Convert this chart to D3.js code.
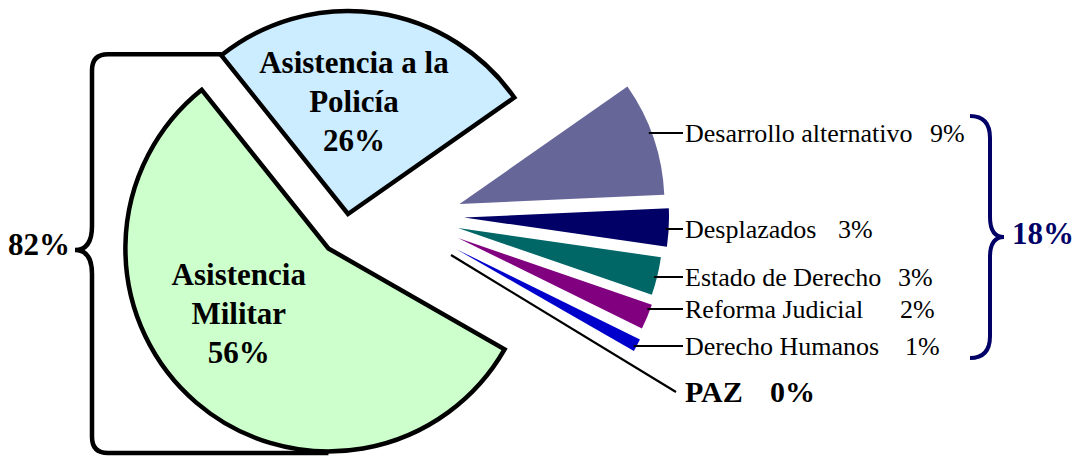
<!DOCTYPE html>
<html><head><meta charset="utf-8">
<script src="https://cdn.jsdelivr.net/npm/d3@7"></script>
<style>
html,body{margin:0;padding:0;background:#fff;}
svg{display:block;}
svg text{font-family:"Liberation Serif","Times New Roman","DejaVu Serif",serif;}
</style>
</head><body>
<svg id="chart" width="1079" height="456" font-family="Liberation Serif, Times New Roman, DejaVu Serif, serif"></svg>
<script>
// ---------------- DATA ----------------
const categories = ["Desarrollo alternativo","Desplazados","Estado de Derecho","Reforma Judicial","Derecho Humanos","PAZ","Asistencia Militar","Asistencia a la Policía"];
const values     = [9, 3, 3, 2, 1, 0, 56, 26];
const groups     = ["break","break","break","break","break","break","main","main"];
const mainLabelLines = {"Asistencia Militar":["Asistencia","Militar"], "Asistencia a la Policía":["Asistencia a la","Policía"]};

// ---------------- LAYOUT / STYLE ----------------
const W = 1079, H = 456;
const FONT = "'Liberation Serif', 'Times New Roman', 'DejaVu Serif', serif";
const center = [346, 228];
const startDeg = 55;
const colors = ["#666699","#000066","#006666","#800080","#0000CC","#000000","#CCFFCC","#CCECFF"];
// explode vectors (how far each slice is pulled out of the pie)
const explode = [[113.5,-24],[118,-10.5],[112,0],[112,10],[110,21],[105,27],[-17.6,20.5],[2,-14]];
const radiusMain = 203, radiusBreak = 205;
const labelY = [133, 229, 277, 309, 346, 392];      // leader-line heights of the side labels
const pctX   = [930, 838, 898, 900, 905, 770];      // x of the percentage text
const labelX = 685;
const mainLabelNudge = {"Asistencia Militar":[-17,-19], "Asistencia a la Policía":[-10,-1]};

const svg = d3.select("#chart");
const rad = Math.PI/180;
const polar = (c, r, a) => [c[0] + r*Math.sin(a), c[1] - r*Math.cos(a)];

const data = categories.map((name,i)=>({name, value:values[i], group:groups[i], color:colors[i], off:explode[i], ly:labelY[i], px:pctX[i]}));
const pie = d3.pie().sort(null).value(d=>d.value)
  .startAngle(startDeg*rad).endAngle(startDeg*rad + 2*Math.PI);
const arcsData = pie(data);
const total = d3.sum(values);
const fmt = v => Math.round(v/total*100) + "%";

arcsData.forEach(d=>{
  d.apex = [center[0] + d.data.off[0], center[1] + d.data.off[1]];
  d.R = d.data.group === "main" ? radiusMain : radiusBreak;
});

const arcGen = d3.arc().innerRadius(0);

// main slices
const mainArcs = arcsData.filter(d=>d.data.group==="main");
svg.append("g").selectAll("path").data(mainArcs).join("path")
  .attr("transform", d=>`translate(${d.apex[0]},${d.apex[1]})`)
  .attr("d", d=>arcGen.outerRadius(d.R)(d))
  .attr("fill", d=>d.data.color)
  .attr("stroke", "#000").attr("stroke-width", 4.5).attr("stroke-linejoin","miter");

// break-out slices
const breakArcs = arcsData.filter(d=>d.data.group==="break" && d.data.value>0);
svg.append("g").selectAll("path").data(breakArcs).join("path")
  .attr("transform", d=>`translate(${d.apex[0]},${d.apex[1]})`)
  .attr("d", d=>arcGen.outerRadius(d.R)(d))
  .attr("fill", d=>d.data.color);

function txt(sel){ return sel.attr("font-family", FONT).attr("fill","#000"); }

// leader lines + labels for break-out slices
const side = arcsData.filter(d=>d.data.group==="break");
const lg = svg.append("g");
side.forEach(d=>{
  const y = d.data.ly;
  if (d.data.value > 0) {
    const dy = y - d.apex[1];
    const x0 = d.apex[0] + Math.sqrt(d.R*d.R - dy*dy) - 3;
    lg.append("line").attr("x1", x0).attr("x2", labelX-2).attr("y1", y).attr("y2", y)
      .attr("stroke","#000").attr("stroke-width",2);
    txt(lg.append("text")).attr("x", labelX).attr("y", y + 9)
      .attr("font-size", 26).text(d.data.name);
    txt(lg.append("text")).attr("x", d.data.px).attr("y", y + 9)
      .attr("font-size", 26).text(fmt(d.data.value));
  } else {
    // zero slice: a line from its apex to the label
    lg.append("line").attr("x1", d.apex[0]).attr("y1", d.apex[1])
      .attr("x2", labelX-9).attr("y2", y)
      .attr("stroke","#000").attr("stroke-width",2.2);
    txt(lg.append("text")).attr("x", labelX).attr("y", y + 10)
      .attr("font-size", 30).attr("font-weight","bold").text(d.data.name);
    txt(lg.append("text")).attr("x", d.data.px).attr("y", y + 10)
      .attr("font-size", 30).attr("font-weight","bold").text(fmt(d.data.value));
  }
});

// labels inside main slices
const mg = svg.append("g");
mainArcs.forEach(d=>{
  const c = arcGen.innerRadius(0).outerRadius(d.R*1.1).centroid(d);
  const nud = mainLabelNudge[d.data.name];
  const cx = d.apex[0] + c[0] + nud[0], cy = d.apex[1] + c[1] + nud[1];
  const lines = mainLabelLines[d.data.name].concat([fmt(d.data.value)]);
  const t = txt(mg.append("text")).attr("text-anchor","middle").attr("font-size",31)
    .attr("font-weight","bold");
  lines.forEach((s,i)=>{
    t.append("tspan").attr("x", cx).attr("y", cy + 10 + (i-1)*39).text(s);
  });
});

// left brace (82%)
const pol = mainArcs.find(d=>d.data.name==="Asistencia a la Policía");
const mil = mainArcs.find(d=>d.data.name==="Asistencia Militar");
const polCorner = polar(pol.apex, pol.R, pol.startAngle);
const yTop = polCorner[1] - 1, yBot = mil.apex[1] + mil.R + 1.5;
const bx = 92, tipX = 75, yMid = 250;
const bp = d3.path();
bp.moveTo(polCorner[0], yTop);
bp.lineTo(bx+16, yTop);
bp.quadraticCurveTo(bx, yTop, bx, yTop+16);
bp.lineTo(bx, yMid-24);
bp.quadraticCurveTo(bx, yMid, tipX, yMid);
bp.quadraticCurveTo(bx, yMid, bx, yMid+24);
bp.lineTo(bx, yBot-16);
bp.quadraticCurveTo(bx, yBot, bx+16, yBot);
bp.lineTo(mil.apex[0], yBot);
svg.append("path").attr("d", bp.toString()).attr("fill","none")
  .attr("stroke","#000").attr("stroke-width",4.5);
const mainTotal = d3.sum(mainArcs, d=>d.data.value);
txt(svg.append("text")).attr("x", 8).attr("y", 255).attr("font-size",31).attr("font-weight","bold")
  .text(fmt(mainTotal));

// right brace (18%)
const breakTotal = d3.sum(side, d=>d.data.value);
const rTop = 116, rBot = 358, rMid = 237, rx = 990, rEnd = 970, rTip = 1004;
const rp = d3.path();
rp.moveTo(rEnd, rTop);
rp.quadraticCurveTo(rx, rTop, rx, rTop+22);
rp.lineTo(rx, rMid-20);
rp.quadraticCurveTo(rx, rMid, rTip, rMid);
rp.quadraticCurveTo(rx, rMid, rx, rMid+20);
rp.lineTo(rx, rBot-22);
rp.quadraticCurveTo(rx, rBot, rEnd, rBot);
svg.append("path").attr("d", rp.toString()).attr("fill","none")
  .attr("stroke","#000066").attr("stroke-width",4);
txt(svg.append("text")).attr("x", 1012).attr("y", 244).attr("font-size",31).attr("font-weight","bold")
  .attr("fill","#000066").text(fmt(breakTotal));
</script>
</body></html>
